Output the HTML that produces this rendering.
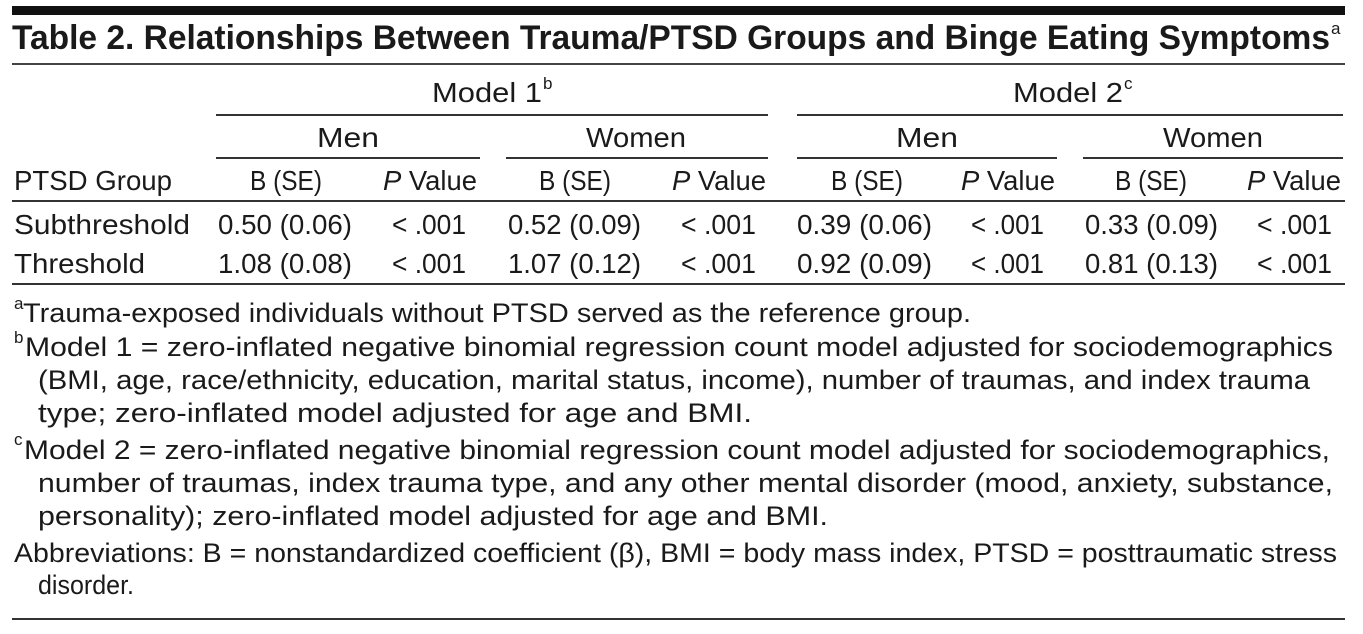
<!DOCTYPE html>
<html><head><meta charset="utf-8"><style>
html,body{margin:0;padding:0;background:#fff}
svg{display:block}
text{font-family:"Liberation Sans Narrow","Liberation Sans",sans-serif;fill:#1a1a1a}
.t{font-size:28px}
.f{font-size:27px}
.sup{font-size:17px}
</style></head><body>
<svg width="1363" height="634" viewBox="0 0 1363 634">
<rect x="12" y="6" width="1333" height="9" fill="#111"/>
<text x="12" y="49" font-size="34" font-weight="bold" textLength="1318" lengthAdjust="spacingAndGlyphs">Table 2. Relationships Between Trauma/PTSD Groups and Binge Eating Symptoms</text>
<text x="1331" y="34" class="sup">a</text>
<rect x="12" y="63" width="1333" height="2" fill="#444"/>

<g class="t">
<text x="432" y="102" textLength="110" lengthAdjust="spacingAndGlyphs">Model 1</text>
<text x="543" y="89" class="sup">b</text>
<text x="1013" y="102" textLength="110" lengthAdjust="spacingAndGlyphs">Model 2</text>
<text x="1124" y="89" class="sup">c</text>
<rect x="216" y="114" width="552" height="2" fill="#333"/>
<rect x="797" y="114" width="546" height="2" fill="#333"/>
<text x="348" y="147" text-anchor="middle" textLength="62" lengthAdjust="spacingAndGlyphs">Men</text>
<text x="636" y="147" text-anchor="middle" textLength="100" lengthAdjust="spacingAndGlyphs">Women</text>
<text x="927" y="147" text-anchor="middle" textLength="62" lengthAdjust="spacingAndGlyphs">Men</text>
<text x="1213" y="147" text-anchor="middle" textLength="100" lengthAdjust="spacingAndGlyphs">Women</text>
<rect x="216" y="157" width="264" height="2" fill="#333"/>
<rect x="506" y="157" width="262" height="2" fill="#333"/>
<rect x="797" y="157" width="260" height="2" fill="#333"/>
<rect x="1083" y="157" width="260" height="2" fill="#333"/>
<text x="14" y="190" textLength="158" lengthAdjust="spacingAndGlyphs">PTSD Group</text>
<text x="286" y="190" text-anchor="middle" textLength="72" lengthAdjust="spacingAndGlyphs">B (SE)</text>
<text x="430" y="190" text-anchor="middle" textLength="94" lengthAdjust="spacingAndGlyphs"><tspan font-style="italic">P</tspan> Value</text>
<text x="575" y="190" text-anchor="middle" textLength="72" lengthAdjust="spacingAndGlyphs">B (SE)</text>
<text x="719" y="190" text-anchor="middle" textLength="94" lengthAdjust="spacingAndGlyphs"><tspan font-style="italic">P</tspan> Value</text>
<text x="867" y="190" text-anchor="middle" textLength="72" lengthAdjust="spacingAndGlyphs">B (SE)</text>
<text x="1008" y="190" text-anchor="middle" textLength="94" lengthAdjust="spacingAndGlyphs"><tspan font-style="italic">P</tspan> Value</text>
<text x="1151" y="190" text-anchor="middle" textLength="72" lengthAdjust="spacingAndGlyphs">B (SE)</text>
<text x="1294" y="190" text-anchor="middle" textLength="94" lengthAdjust="spacingAndGlyphs"><tspan font-style="italic">P</tspan> Value</text>
</g>
<rect x="12" y="200" width="1333" height="2" fill="#333"/>

<g class="t">
<text x="14" y="234" textLength="176" lengthAdjust="spacingAndGlyphs">Subthreshold</text>
<text x="218" y="234" textLength="134" lengthAdjust="spacingAndGlyphs">0.50 (0.06)</text>
<text x="392" y="234" textLength="74" lengthAdjust="spacingAndGlyphs">&lt; .001</text>
<text x="508" y="234" textLength="133" lengthAdjust="spacingAndGlyphs">0.52 (0.09)</text>
<text x="681" y="234" textLength="75" lengthAdjust="spacingAndGlyphs">&lt; .001</text>
<text x="797" y="234" textLength="135" lengthAdjust="spacingAndGlyphs">0.39 (0.06)</text>
<text x="971" y="234" textLength="73" lengthAdjust="spacingAndGlyphs">&lt; .001</text>
<text x="1085" y="234" textLength="133" lengthAdjust="spacingAndGlyphs">0.33 (0.09)</text>
<text x="1257" y="234" textLength="75" lengthAdjust="spacingAndGlyphs">&lt; .001</text>
</g>
<g class="t">
<text x="14" y="273" textLength="131" lengthAdjust="spacingAndGlyphs">Threshold</text>
<text x="218" y="273" textLength="134" lengthAdjust="spacingAndGlyphs">1.08 (0.08)</text>
<text x="392" y="273" textLength="74" lengthAdjust="spacingAndGlyphs">&lt; .001</text>
<text x="508" y="273" textLength="133" lengthAdjust="spacingAndGlyphs">1.07 (0.12)</text>
<text x="681" y="273" textLength="75" lengthAdjust="spacingAndGlyphs">&lt; .001</text>
<text x="797" y="273" textLength="135" lengthAdjust="spacingAndGlyphs">0.92 (0.09)</text>
<text x="971" y="273" textLength="73" lengthAdjust="spacingAndGlyphs">&lt; .001</text>
<text x="1085" y="273" textLength="133" lengthAdjust="spacingAndGlyphs">0.81 (0.13)</text>
<text x="1257" y="273" textLength="75" lengthAdjust="spacingAndGlyphs">&lt; .001</text>
</g>
<rect x="12" y="283" width="1333" height="2" fill="#333"/>

<g class="f">
<text x="14" y="309" class="sup">a</text>
<text x="23" y="322" textLength="948" lengthAdjust="spacingAndGlyphs">Trauma-exposed individuals without PTSD served as the reference group.</text>
<text x="14" y="343" class="sup">b</text>
<text x="25" y="356" textLength="1308" lengthAdjust="spacingAndGlyphs">Model 1 = zero-inflated negative binomial regression count model adjusted for sociodemographics</text>
<text x="38" y="389" textLength="1272" lengthAdjust="spacingAndGlyphs">(BMI, age, race/ethnicity, education, marital status, income), number of traumas, and index trauma</text>
<text x="38" y="422" textLength="714" lengthAdjust="spacingAndGlyphs">type; zero-inflated model adjusted for age and BMI.</text>
<text x="14" y="445" class="sup">c</text>
<text x="24" y="459" textLength="1306" lengthAdjust="spacingAndGlyphs">Model 2 = zero-inflated negative binomial regression count model adjusted for sociodemographics,</text>
<text x="38" y="492" textLength="1295" lengthAdjust="spacingAndGlyphs">number of traumas, index trauma type, and any other mental disorder (mood, anxiety, substance,</text>
<text x="38" y="525" textLength="790" lengthAdjust="spacingAndGlyphs">personality); zero-inflated model adjusted for age and BMI.</text>
<text x="14" y="562" textLength="1323" lengthAdjust="spacingAndGlyphs">Abbreviations: B = nonstandardized coefficient (β), BMI = body mass index, PTSD = posttraumatic stress</text>
<text x="38" y="594" textLength="96" lengthAdjust="spacingAndGlyphs">disorder.</text>
</g>
<rect x="12" y="618" width="1333" height="2" fill="#333"/>
</svg>
</body></html>
